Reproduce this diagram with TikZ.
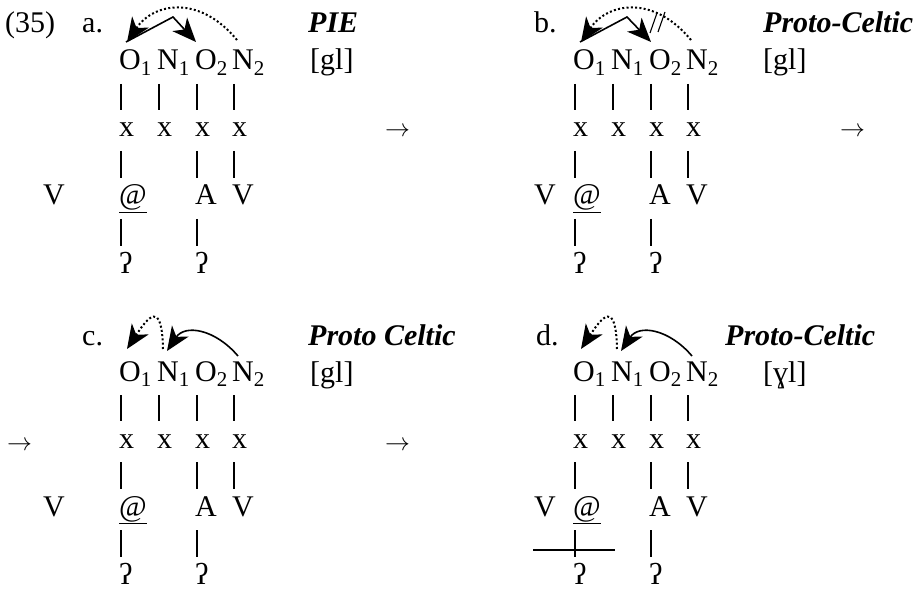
\documentclass[tikz,border=0pt]{standalone}
\usepackage{fontspec}
\setmainfont{Liberation Serif}
\usetikzlibrary{arrows.meta,calc}
\tikzset{
  t/.style={anchor=base west, inner sep=0pt, font=\fontsize{30}{36}\selectfont},
  tb/.style={t, font=\fontsize{30}{36}\selectfont\bfseries\itshape},
  bar/.style={line width=1.1pt},
  arr/.style={line width=1.6pt, -{Stealth[length=24pt,width=20pt,inset=7pt]}},
  dotarr/.style={arr, line width=2pt, dash pattern=on 2pt off 2.3pt},
  strike/.style={line width=1.4pt},
}
\newcommand\mygrid[2]{%
  \node[t] (#1O1) at (119,70) {O\textsubscript{1}};
  \node[t] (#1N1) at (157,70) {N\textsubscript{1}};
  \node[t] (#1O2) at (195,70) {O\textsubscript{2}};
  \node[t] (#1N2) at (232,70) {N\textsubscript{2}};
  \node[t] (#1x1) at (119,137) {x};
  \node[t] (#1x2) at (157,137) {x};
  \node[t] (#1x3) at (195,137) {x};
  \node[t] (#1x4) at (232,137) {x};
  \node[t] (#1V)  at (#2,205) {V};
  \node[t] (#1at) at (119,205) {\underline{@}};
  \node[t] (#1A)  at (195,205) {A};
  \node[t] (#1V2) at (232,205) {V};
  \node[t] (#1g1) at (119,273) {ʔ};
  \node[t] (#1g2) at (195,273) {ʔ};
  \foreach \up/\lo in {O1/x1,N1/x2,O2/x3,N2/x4,x1/at,x3/A,x4/V2,at/g1,A/g2}
    \draw[bar] ($(#1\up.base west)+(2,14)$) -- ($(#1\lo.base west)+(2,-27)$);
}
\begin{document}
\begin{tikzpicture}[x=1pt,y=-1pt]
\useasboundingbox (0,0) rectangle (914,591);
% ---- panel a
\node[t] (num) at (5,33) {(35)};
\node[t] (la) at (82,33) {a.};
\node[tb] (ta) at (308,33) {PIE};
\node[t] (ga) at (310,70) {[gl]};
\mygrid{a}{43}
\node[t] (ra) at (385,137) {$\rightarrow$};
\draw[arr] ([shift={(7,-28)}]aO1.base west) -- ++(47,-25) -- ([shift={(1,-28)}]aO2.base west);
\draw[dotarr] ([shift={(5,-30)}]aN2.base west) .. controls +(-37,-45) and +(27,-40) .. ([shift={(8,-28)}]aO1.base west);
% ---- panel b
\node[t] (lb) at (534,33) {b.};
\node[tb] (tb) at (763,33) {Proto-Celtic};
\node[t] (gb) at (763,70) {[gl]};
\begin{scope}[shift={(454,0)}]
\mygrid{b}{80}
\end{scope}
\node[t] (rb) at (840,137) {$\rightarrow$};
\draw[arr] ([shift={(7,-28)}]bO1.base west) -- ++(47,-25) -- ([shift={(2,-28)}]bO2.base west);
\draw[dotarr] ([shift={(5,-30)}]bN2.base west) .. controls +(-37,-45) and +(27,-40) .. ([shift={(8,-28)}]bO1.base west);
\coordinate (s1a) at ([shift={(-36,-37)}]bN2.base west);
\coordinate (s1b) at ([shift={(-29,-57)}]bN2.base west);
\coordinate (s2a) at ([shift={(-28,-38)}]bN2.base west);
\coordinate (s2b) at ([shift={(-21,-58)}]bN2.base west);
\draw[bar] (s1a) -- (s1b);
\draw[bar] (s2a) -- (s2b);
% ---- panel c
\node[t] (lc0) at (7,450) {$\rightarrow$};
\node[t] (lc) at (82,345) {c.};
\node[tb] (tc) at (308,345) {Proto Celtic};
\node[t] (gc) at (310,382) {[gl]};
\begin{scope}[shift={(0,311)}]
\mygrid{c}{43}
\end{scope}
\node[t] (rc) at (385,450) {$\rightarrow$};
\draw[dotarr] ([shift={(6,-32)}]cN1.base west) .. controls +(-1,-50) and +(21,-32) .. ([shift={(8,-32)}]cO1.base west);
\draw[arr] ([shift={(6,-25)}]cN2.base west) .. controls +(-23,-27) and +(18,-27) .. ([shift={(10,-30)}]cN1.base west);
% ---- panel d
\node[t] (ld) at (536,345) {d.};
\node[tb] (td) at (725,345) {Proto-Celtic};
\node[t] (gd) at (763,382) {[ɣl]};
\begin{scope}[shift={(454,311)}]
\mygrid{d}{80}
\end{scope}
\draw[dotarr] ([shift={(6,-32)}]dN1.base west) .. controls +(-1,-50) and +(21,-32) .. ([shift={(8,-32)}]dO1.base west);
\draw[arr] ([shift={(6,-25)}]dN2.base west) .. controls +(-23,-27) and +(18,-27) .. ([shift={(10,-30)}]dN1.base west);
\coordinate (dl) at ([shift={(-40,-34)}]dg1.base west);
\coordinate (dr) at ([shift={(42,-34)}]dg1.base west);
\draw[strike] (dl) -- (dr);
\end{tikzpicture}
\end{document}
